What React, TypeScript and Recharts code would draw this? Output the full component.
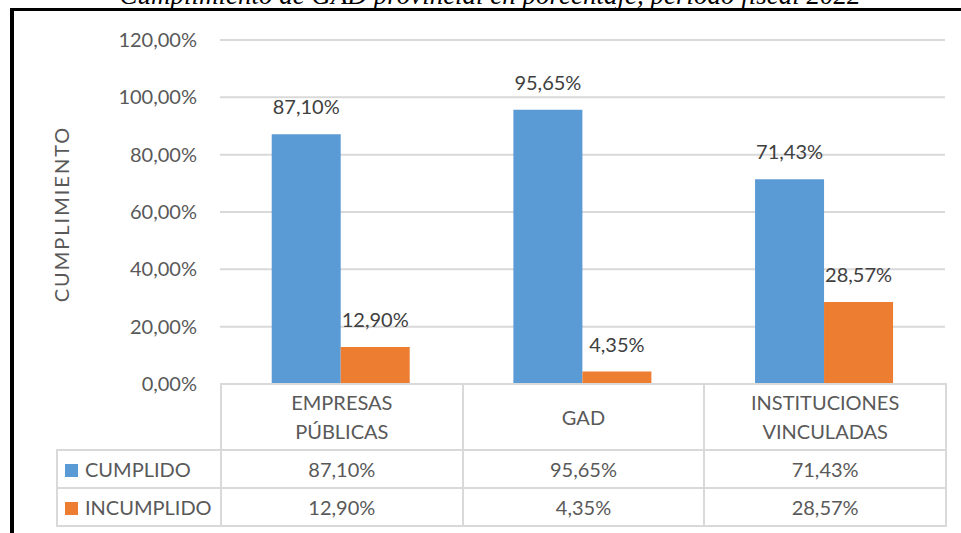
import { Bar, BarChart, CartesianGrid, LabelList, XAxis, YAxis } from "recharts";

const categories = ["EMPRESAS\nPÚBLICAS", "GAD", "INSTITUCIONES\nVINCULADAS"];
const cumplido = [87.1, 95.65, 71.43];
const incumplido = [12.9, 4.35, 28.57];
const yTicks = [0, 20, 40, 60, 80, 100, 120];
const seriesNames = ["CUMPLIDO", "INCUMPLIDO"];
const title = "Cumplimiento de GAD provincial en porcentaje, período fiscal 2022";
const yLabel = "CUMPLIMIENTO";

const BLUE = "#5b9bd5";
const ORANGE = "#ed7d31";
const textColor = "#595959";
const gridColor = "#d9d9d9";
const font = "Lato, 'Open Sans', sans-serif";

const fmt = (v: number) => v.toFixed(2).replace(".", ",") + "%";

const data = categories.map((c, i) => ({
  name: c,
  cumplido: cumplido[i],
  incumplido: incumplido[i],
}));

const TABLE_LEFT = 56;
const PLOT_LEFT = 220;
const PLOT_RIGHT = 945;
const PLOT_TOP = 40;
const PLOT_BOTTOM = 384;
const colW = (PLOT_RIGHT - PLOT_LEFT) / categories.length;

function YTitle({ viewBox }: { viewBox?: { x: number; y: number; width: number; height: number } }) {
  if (!viewBox) return null;
  const cx = 61;
  const cy = viewBox.y + viewBox.height / 2 + 2;
  return (
    <text
      x={cx}
      y={cy}
      transform={`rotate(-90, ${cx}, ${cy})`}
      textAnchor="middle"
      dominantBaseline="central"
      fill={textColor}
      fontSize={20}
      letterSpacing={2}
      fontFamily={font}
    >
      {yLabel}
    </text>
  );
}

function DataTable() {
  const border = `2px solid ${gridColor}`;
  const cell = {
    border,
    textAlign: "center" as const,
    padding: 0,
    color: textColor,
    fontSize: 20,
  };
  const rows = [cumplido, incumplido];
  const colors = [BLUE, ORANGE];
  return (
    <table
      style={{
        position: "absolute",
        left: TABLE_LEFT,
        top: PLOT_BOTTOM - 1,
        width: PLOT_RIGHT - TABLE_LEFT,
        borderCollapse: "collapse",
        fontFamily: font,
        tableLayout: "fixed",
      }}
    >
      <colgroup>
        <col style={{ width: PLOT_LEFT - TABLE_LEFT }} />
        {categories.map((c) => (
          <col key={c} style={{ width: colW }} />
        ))}
      </colgroup>
      <tbody>
        <tr style={{ height: 66 }}>
          <td style={{ padding: 0, border: "none" }} />
          {categories.map((c) => (
            <td key={c} style={{ ...cell, whiteSpace: "pre-line", lineHeight: "29px" }}>
              {c}
            </td>
          ))}
        </tr>
        {rows.map((vals, r) => (
          <tr key={seriesNames[r]} style={{ height: 38 }}>
            <td style={{ ...cell, textAlign: "left", paddingLeft: 7, whiteSpace: "nowrap" }}>
              <span
                style={{
                  display: "inline-block",
                  width: 13,
                  height: 13,
                  background: colors[r],
                  marginRight: 7,
                }}
              />
              {seriesNames[r]}
            </td>
            {vals.map((v, i) => (
              <td key={i} style={cell}>
                {fmt(v)}
              </td>
            ))}
          </tr>
        ))}
      </tbody>
    </table>
  );
}

export default function App() {
  return (
    <div
      style={{
        position: "absolute",
        left: 0,
        top: 0,
        width: 961,
        height: 533,
        background: "#fff",
        overflow: "hidden",
        fontFamily: font,
      }}
    >
      <svg width={961} height={30} style={{ position: "absolute", left: 0, top: 0 }}>
        <text
          x={490}
          y={4}
          textAnchor="middle"
          fontFamily="'Liberation Serif', 'Times New Roman', serif"
          fontStyle="italic"
          fontSize={27}
          fill="#000"
        >
          {title}
        </text>
      </svg>
      <div
        style={{
          position: "absolute",
          left: 10,
          top: 8,
          width: 1200,
          height: 800,
          borderTop: "3px solid #000",
          borderLeft: "4px solid #000",
        }}
      />
      <div style={{ position: "absolute", left: 0, top: 0 }}>
        <BarChart
          width={961}
          height={PLOT_BOTTOM + 20}
          data={data}
          margin={{ top: PLOT_TOP, right: 961 - PLOT_RIGHT, bottom: 20, left: 0 }}
          barCategoryGap="21.4%"
          barGap={0}
        >
          <CartesianGrid vertical={false} stroke={gridColor} strokeWidth={2} />
          <XAxis dataKey="name" hide />
          <YAxis
            width={PLOT_LEFT}
            domain={[0, 120]}
            ticks={yTicks}
            interval={0}
            axisLine={false}
            tickLine={false}
            tickSize={0}
            tickMargin={23}
            tickFormatter={fmt}
            tick={{ fill: textColor, fontSize: 20, fontFamily: font }}
            label={<YTitle />}
          />
          <Bar dataKey="cumplido" name={seriesNames[0]} fill={BLUE} isAnimationActive={false}>
            <LabelList
              dataKey="cumplido"
              position="top"
              offset={20}
              formatter={(v: number) => fmt(v)}
              style={{ fill: "#404040", fontSize: 20, fontFamily: font }}
            />
          </Bar>
          <Bar dataKey="incumplido" name={seriesNames[1]} fill={ORANGE} isAnimationActive={false}>
            <LabelList
              dataKey="incumplido"
              position="top"
              offset={20}
              formatter={(v: number) => fmt(v)}
              style={{ fill: "#404040", fontSize: 20, fontFamily: font }}
            />
          </Bar>
        </BarChart>
      </div>
      <DataTable />
    </div>
  );
}
